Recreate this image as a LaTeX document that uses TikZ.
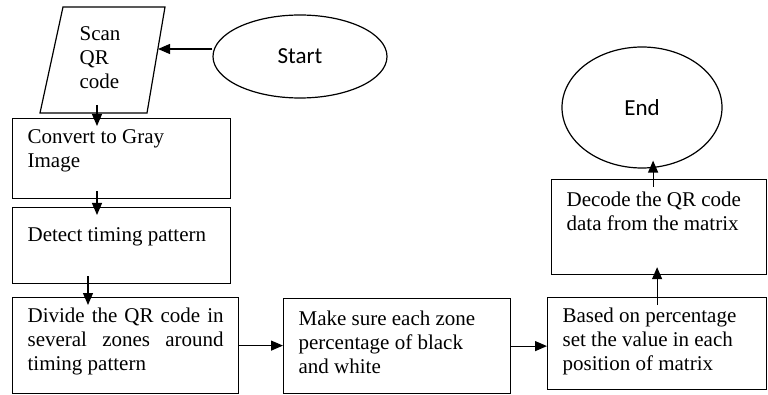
\documentclass[tikz,border=0pt]{standalone}
\usepackage{fontspec}
\setmainfont{Liberation Serif}
\newfontfamily\ovalfont{Carlito}
\usetikzlibrary{arrows.meta, shapes.geometric}

\begin{document}
\begin{tikzpicture}[x = 1pt, y = -1pt, > = {Triangle[length = 12pt, width = 10pt]}, line width = 1.2pt,
	box/.style = {draw, anchor = north west, inner xsep = 15pt, inner ysep = 8pt, font = \fontsize{21}{24}\selectfont},
	oval/.style = {draw, ellipse, inner sep = 0pt, font = \ovalfont\fontsize{23}{24}\selectfont},
	flow/.style = {->},
	into/.style = {shorten < = -8pt, shorten > = -8pt}]

	\useasboundingbox (0, 0) rectangle (768, 395);

	% Start and input
	
	\node [oval, minimum width = 174pt, minimum height = 83pt] (start) at (300, 56.5) {Start};
	
	\draw (63, 7) -- (165, 7) -- (147, 113) -- (40, 113) -- cycle;
	\node [align = left, inner sep = 0pt, font = \fontsize{21}{24}\selectfont] (scan) at (100, 58) {Scan\\QR\\code};
	\coordinate (scanin) at (158, 49);
	\coordinate (scanout) at (97, 113);
	
	% Left column
	
	\node [box] (convert) at (12, 118) {\parbox[t][64pt][t]{188pt}{\raggedright\strut Convert to Gray\\Image}};
	\node [box] (detect) at (12, 207) {\parbox[t][60pt][t]{188pt}{\raggedright\rule{0pt}{26pt}Detect timing pattern}};
	\node [box] (divide) at (12, 297) {\parbox[t][80pt][t]{196pt}{\strut\makebox[196pt][s]{Divide the QR code in}\\\makebox[196pt][s]{several zones around}\\timing pattern}};
	
	% Bottom row and right column
	
	\node [box] (make) at (283, 298) {\parbox[t][79pt][t]{197pt}{\raggedright\rule{0pt}{19pt}Make sure each zone\\percentage of black\\and white}};
	\node [box] (based) at (547, 297) {\parbox[t][76pt][t]{189pt}{\raggedright\strut Based on percentage\\set the value in each\\position of matrix}};
	\node [box] (decode) at (551, 179) {\parbox[t][79pt][t]{185pt}{\raggedright\rule{0pt}{19pt}Decode the QR code\\data from the matrix}};
	
	\node [oval, minimum width = 160pt, minimum height = 121pt] (finish) at (642, 107.5) {End};
	
	% Connectors
	
	\draw [flow] (start.west |- scanin) -- (scanin);
	\draw [flow, into] (scanout) -- (scanout |- convert.north);
	\draw [flow, into] (convert.south -| scanout) -- (detect.north -| scanout);
	\draw [flow, into] ([xshift = -9pt] detect.south -| scanout) -- ([xshift = -9pt] divide.north -| scanout);
	\draw [flow] (divide.east) -- (divide.east -| make.west);
	\draw [flow] (make.east) -- (make.east -| based.west);
	\draw [flow, into] (based.north) -- (based.north |- decode.south);
	\draw [flow, into] ([xshift = -6pt] decode.north) -- ([xshift = -6pt] decode.north |- finish.south);

\end{tikzpicture}
\end{document}
